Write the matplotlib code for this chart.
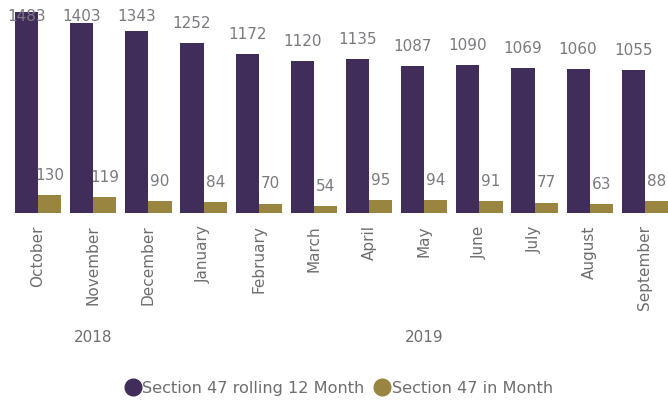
import matplotlib

matplotlib.use("Agg")

import matplotlib.pyplot as plt
import numpy as np
from matplotlib.lines import Line2D

MONTHS = [
    "October", "November", "December", "January", "February", "March",
    "April", "May", "June", "July", "August", "September",
]
ROLLING_12 = [1483, 1403, 1343, 1252, 1172, 1120, 1135, 1087, 1090, 1069, 1060, 1055]
IN_MONTH = [130, 119, 90, 84, 70, 54, 95, 94, 91, 77, 63, 88]
YEARS = ["2018", "2019"]
YEAR_SPANS = [(0, 2), (3, 11)]

PURPLE = "#402d5a"
OLIVE = "#9a8540"
LABEL_GREY = "#7a7a80"
TICK_GREY = "#6e6e6e"


def main() -> None:
    fig = plt.figure(figsize=(6.68, 4.01), dpi=100)
    ax = fig.add_axes([5 / 668, 188 / 401, 663 / 668, 213 / 401])

    x = np.arange(len(MONTHS))
    width = 0.42
    ax.bar(x - width / 2, ROLLING_12, width, color=PURPLE)
    ax.bar(x + width / 2, IN_MONTH, width, color=OLIVE)

    ymax = 1571
    gap = 89
    cap = 1395
    for xi, v in zip(x - width / 2, ROLLING_12):
        ax.text(xi, min(v + gap, cap), str(v), ha="center", va="bottom",
                fontsize=11, color=LABEL_GREY)
    for xi, v in zip(x + width / 2, IN_MONTH):
        ax.text(xi, min(v + gap, cap), str(v), ha="center", va="bottom",
                fontsize=11, color=LABEL_GREY)

    ax.set_xlim(-0.6, 11.42)
    ax.set_ylim(0, ymax)
    ax.set_xticks(x)
    ax.set_xticklabels(MONTHS, rotation=90, fontsize=11, color=TICK_GREY)
    ax.tick_params(axis="x", length=0, pad=9)
    ax.set_yticks([])
    for spine in ax.spines.values():
        spine.set_visible(False)

    for year, (a, b) in zip(YEARS, YEAR_SPANS):
        ax.text((a + b) / 2, -0.585, year, transform=ax.get_xaxis_transform(),
                ha="center", va="center", fontsize=11, color=TICK_GREY)

    handles = [
        Line2D([], [], marker="o", linestyle="", markersize=12, color=PURPLE),
        Line2D([], [], marker="o", linestyle="", markersize=12, color=OLIVE),
    ]
    fig.legend(
        handles,
        ["Section 47 rolling 12 Month", "Section 47 in Month"],
        loc="center",
        bbox_to_anchor=(0.506, 0.032),
        ncol=2,
        frameon=False,
        fontsize=11.6,
        handletextpad=0.0,
        columnspacing=0.5,
        handlelength=1.2,
        labelcolor=TICK_GREY,
    )

    fig.savefig("out.png", dpi=100)
    plt.close(fig)


if __name__ == "__main__":
    main()
